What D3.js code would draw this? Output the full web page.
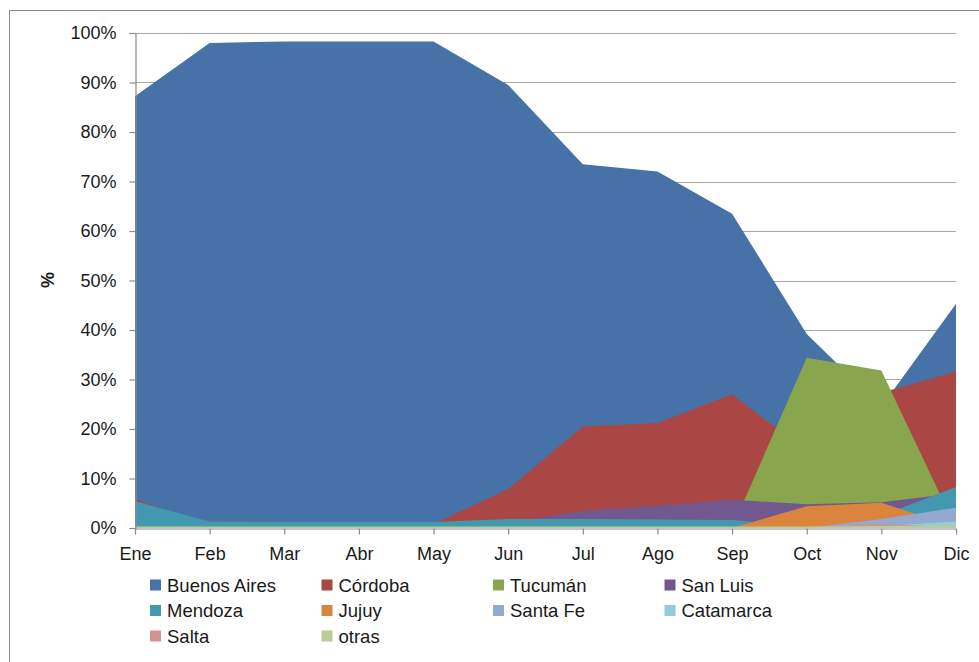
<!DOCTYPE html>
<html>
<head>
<meta charset="utf-8">
<script src="https://cdn.jsdelivr.net/npm/d3@7"></script>
<style>
  html, body { margin: 0; padding: 0; background: #fff; }
  #chart svg { display: block; }
  text { font-family: "Liberation Sans", Arial, sans-serif; fill: #1a1a1a; }
</style>
</head>
<body>
<div id="chart"></div>
<script>
// Data (share of total, %)
var months = ["Ene", "Feb", "Mar", "Abr", "May", "Jun", "Jul", "Ago", "Sep", "Oct", "Nov", "Dic"];
var yTicks = [0, 10, 20, 30, 40, 50, 60, 70, 80, 90, 100];

var seriesNames = ["Buenos Aires", "Córdoba", "Tucumán", "San Luis", "Mendoza",
                   "Jujuy", "Santa Fe", "Catamarca", "Salta", "otras"];

var buenosAires = [87.2, 98.0, 98.3, 98.3, 98.3, 89.5, 73.5, 72.0, 63.5, 39.2, 24.5, 45.3];
var cordoba     = [5.8, 0.5, 0.4, 0.4, 0.8, 7.9, 20.5, 21.2, 27.0, 15.5, 27.3, 31.6];
var tucuman     = [0, 0, 0, 0, 0, 0, 0, 0, 0, 34.4, 31.8, 0];
var sanLuis     = [0, 0, 0, 0, 0, 1.0, 3.5, 4.5, 5.7, 4.8, 5.2, 7.0];
var mendoza     = [5.4, 1.3, 1.2, 1.2, 1.2, 1.8, 1.8, 1.7, 1.6, 0.3, 2.5, 8.3];
var jujuy       = [0, 0, 0, 0, 0, 0, 0, 0, 0, 4.4, 5.1, 0.2];
var santaFe     = [0, 0, 0, 0, 0, 0, 0, 0, 0, 0, 1.8, 4.1];
var catamarca   = [0, 0, 0, 0, 0, 0, 0, 0, 0, 0.1, 0.4, 1.3];
var salta       = [0, 0, 0, 0, 0, 0, 0, 0, 0, 0.2, 0.8, 0.2];
var otras       = [0.3, 0.3, 0.3, 0.3, 0.3, 0.3, 0.3, 0.3, 0.3, 0.3, 0.4, 0.5];

var seriesValues = [buenosAires, cordoba, tucuman, sanLuis, mendoza,
                    jujuy, santaFe, catamarca, salta, otras];

var colors = ["#4672a7", "#aa4744", "#89a54e", "#71588f", "#4198af",
              "#db843d", "#93a9cf", "#93cddd", "#d19392", "#b9cd96"];

(function() {
  var
  width  = 979,
  height = 662,
  plot   = { left: 135, right: 956, top: 33, bottom: 528 }
  ;

  var svg = d3.select("#chart").append("svg")
    .attr("width", width)
    .attr("height", height);

  // Outer frame
  svg.append("rect")
    .attr("x", 9.5).attr("y", 10.5)
    .attr("width", 990).attr("height", 680)
    .attr("fill", "#fff")
    .attr("stroke", "#8c8c8c");

  var x = d3.scalePoint()
    .domain(months)
    .range([plot.left, plot.right]);

  var y = d3.scaleLinear()
    .domain([0, 100])
    .range([plot.bottom, plot.top]);

  // Gridlines
  svg.append("g").attr("class", "grid")
    .selectAll("line")
      .data(yTicks.slice(1))
    .enter().append("line")
      .attr("x1", plot.left).attr("x2", plot.right)
      .attr("y1", function(d) { return Math.round(y(d)) + 0.5; })
      .attr("y2", function(d) { return Math.round(y(d)) + 0.5; })
      .attr("stroke", "#a6a6a6")
      .attr("stroke-width", 1.2);

  // Areas, drawn in order (first series at the back)
  var area = d3.area()
    .x(function(d, i) { return x(months[i]); })
    .y0(y(0))
    .y1(function(d) { return y(d); });

  svg.append("g").attr("class", "areas")
    .selectAll("path")
      .data(seriesValues)
    .enter().append("path")
      .attr("d", area)
      .attr("fill", function(d, i) { return colors[i]; });

  // Y axis
  var yAxis = d3.axisLeft(y)
    .tickValues(yTicks)
    .tickSize(6)
    .tickPadding(13)
    .tickFormat(function(d) { return d + "%"; });

  var gy = svg.append("g")
    .attr("transform", "translate(" + (plot.left + 0.5) + ",0)")
    .call(yAxis);

  // X axis
  var xAxis = d3.axisBottom(x)
    .tickSize(6)
    .tickPadding(13);

  var gx = svg.append("g")
    .attr("transform", "translate(0," + (plot.bottom + 0.5) + ")")
    .call(xAxis);

  [gx, gy].forEach(function(g) {
    g.select(".domain").attr("stroke", "#8c8c8c").attr("stroke-width", 1.2);
    g.selectAll(".tick line").attr("stroke", "#8c8c8c").attr("stroke-width", 1.2);
    g.selectAll(".tick text")
      .attr("font-size", 18)
      .attr("font-family", "Liberation Sans, Arial, sans-serif")
      .attr("fill", "#1a1a1a");
  });

  gx.select(".domain").attr("d", "M" + plot.left + ",0.5H" + plot.right);

  // Y axis title
  svg.append("text")
    .attr("transform", "translate(54,280) rotate(-90)")
    .attr("text-anchor", "middle")
    .attr("font-size", 18)
    .attr("font-weight", "bold")
    .text("%");

  // Legend
  var legend = svg.append("g").attr("class", "legend")
    .selectAll("g")
      .data(seriesNames)
    .enter().append("g")
      .attr("transform", function(d, i) {
        var col = i % 4, row = Math.floor(i / 4);
        return "translate(" + (150 + col * 171.5) + "," + (585 + row * 25.5) + ")";
      });

  legend.append("rect")
    .attr("x", 0).attr("y", -5.5)
    .attr("width", 11).attr("height", 11)
    .attr("fill", function(d, i) { return colors[i]; });

  legend.append("text")
    .attr("x", 17)
    .attr("dy", "0.36em")
    .attr("font-size", 18.5)
    .text(function(d) { return d; });
})();
</script>
</body>
</html>
